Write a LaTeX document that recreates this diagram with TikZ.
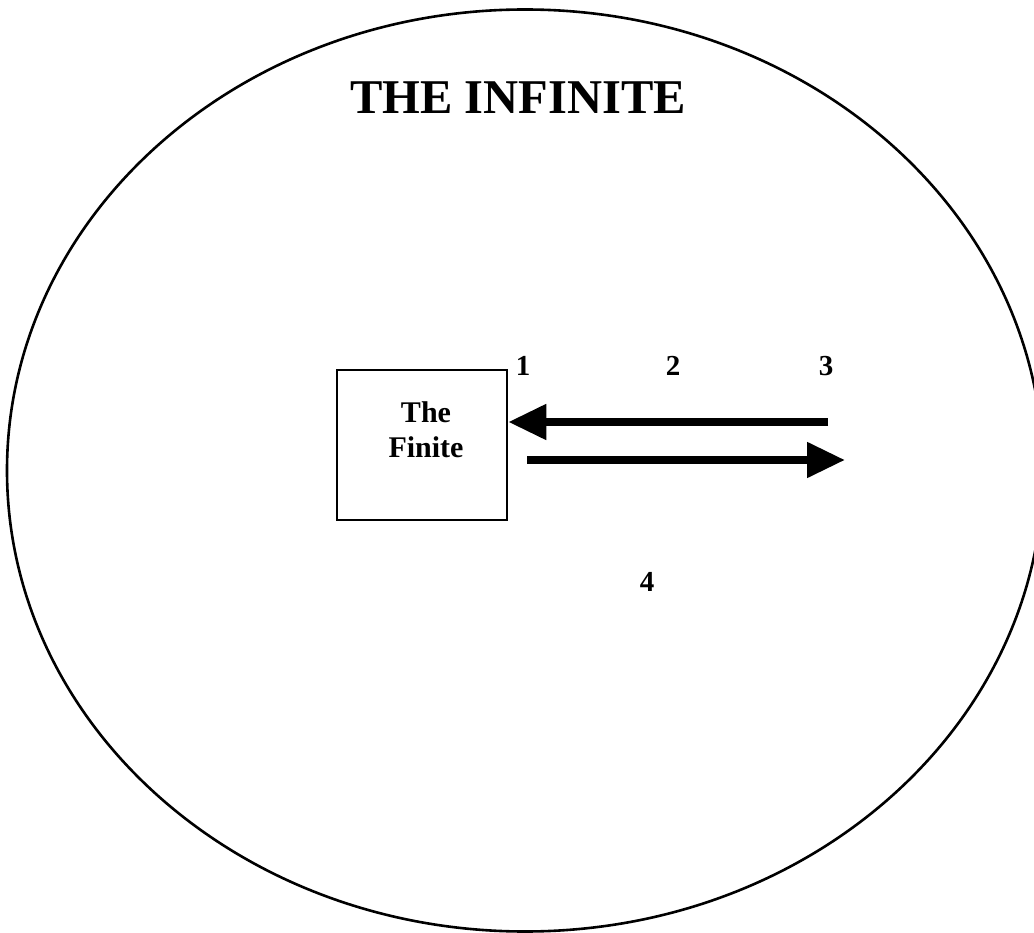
\documentclass[tikz,border=0pt]{standalone}
\usepackage{fontspec}
\setmainfont{Liberation Serif}
\usetikzlibrary{arrows.meta}
\tikzset{
  outline/.style={draw=black, line width=2.6pt},
  bigarrow/.style={line width=8pt, -{Triangle[length=38pt,width=34pt]}},
  numlabel/.style={font=\bfseries\fontsize{29}{34}\selectfont, inner sep=0pt},
}
\begin{document}
\begin{tikzpicture}[x=1pt,y=-1pt]
\useasboundingbox (0,0) rectangle (1034,933);
\fill[white] (0,0) rectangle (1034,933);
\draw[outline] (525,470.5) ellipse [x radius=518, y radius=461];
\node[inner sep=0pt, font=\bfseries\fontsize{48.5}{56}\selectfont] (title) at (518,98) {THE INFINITE};
\node[outline, minimum width=170pt, minimum height=150pt, inner sep=0pt] (finite) at (422,445) {};
\node[align=center, font=\bfseries\fontsize{30}{35}\selectfont, inner sep=0pt] (finitetext) at (426,430) {The\\Finite};
\node[numlabel] (n1) at (523,366) {1};
\node[numlabel] (n2) at (673,366) {2};
\node[numlabel] (n3) at (826,366) {3};
\node[numlabel] (n4) at (647,582) {4};
\coordinate (upstart) at (828,422);
\coordinate (lowstart) at (527,460);
\coordinate (lowend) at (845,460);
\draw[bigarrow] (upstart) -- (finite.east |- upstart);
\draw[bigarrow] (lowstart) -- (lowend);
\end{tikzpicture}
\end{document}
